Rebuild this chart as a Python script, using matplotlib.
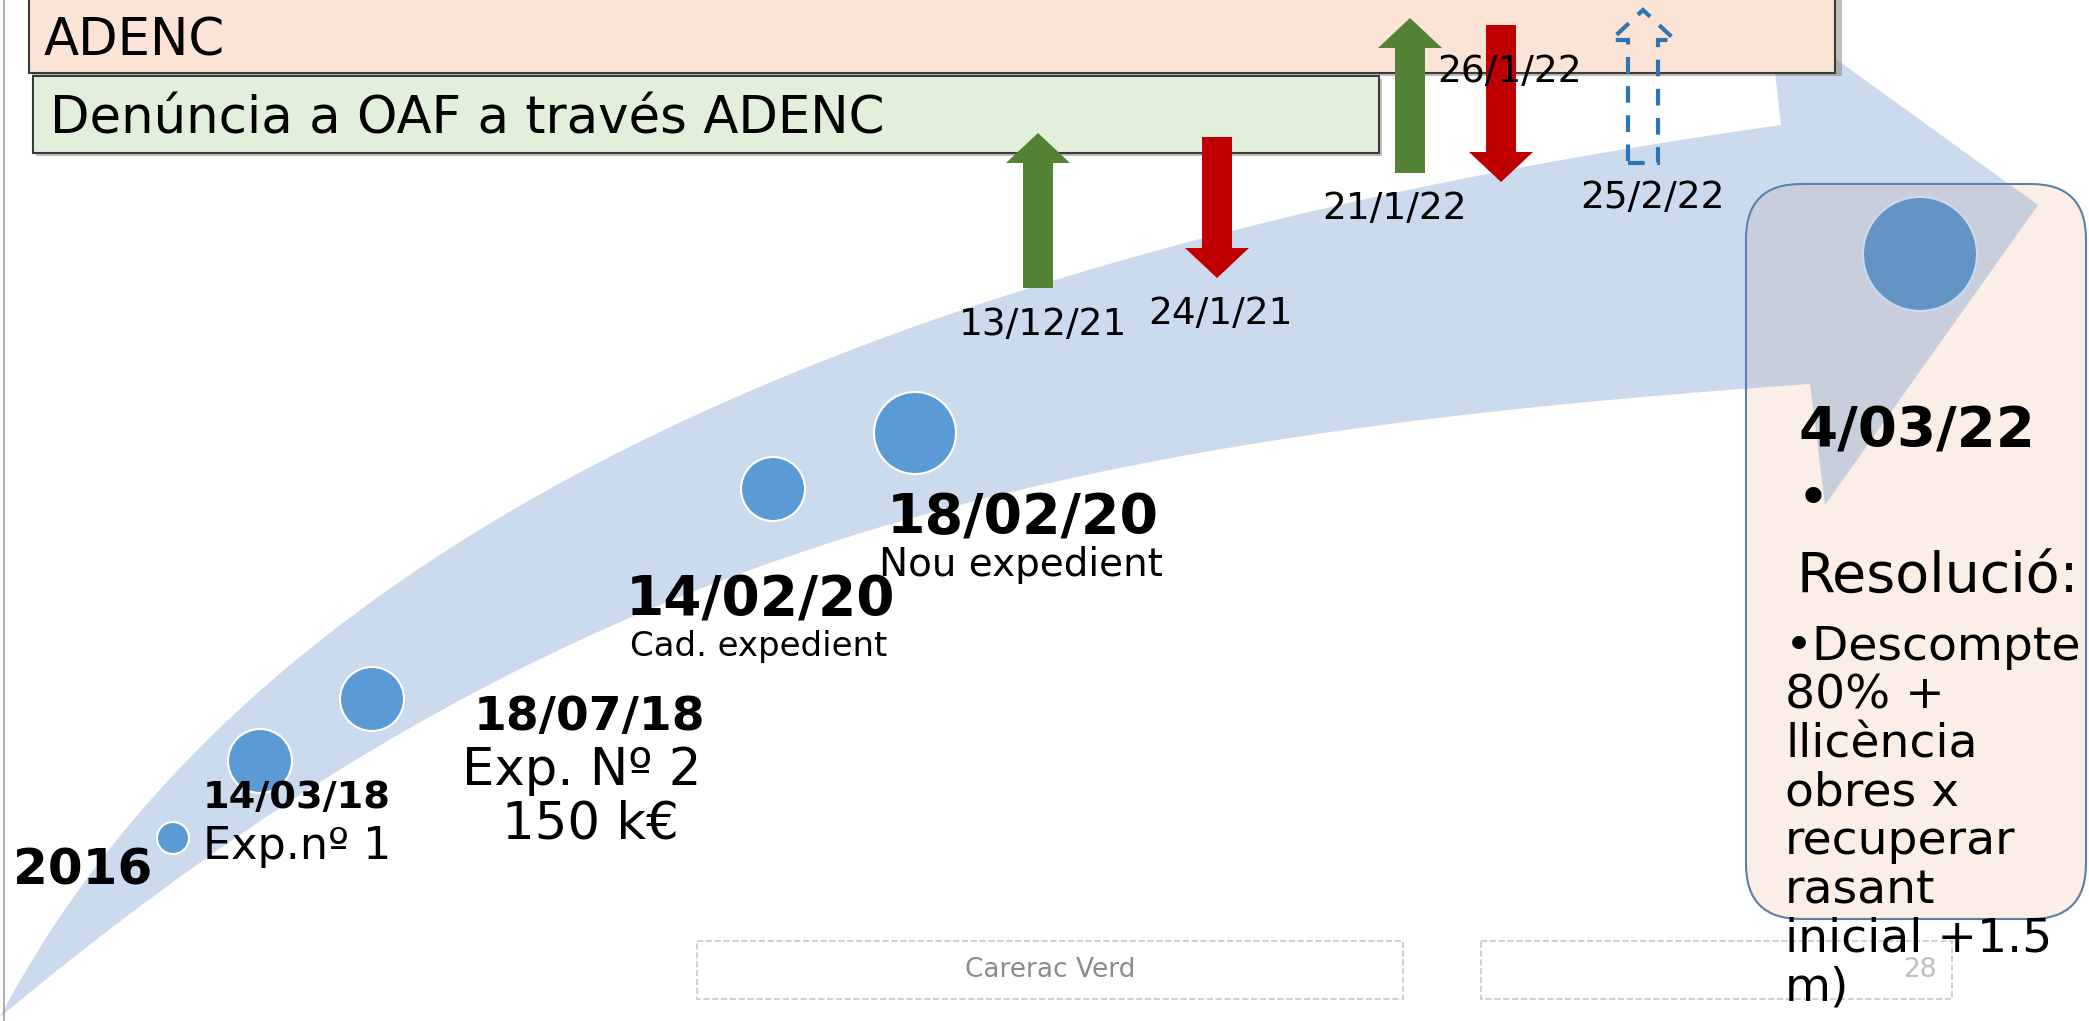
import numpy as np
import matplotlib.pyplot as plt
from math import comb
from matplotlib.patches import Polygon, Rectangle, Circle, FancyBboxPatch

W, H = 2089, 1021

# timeline milestones on the big arrow (x, y, radius in px)
dot_x = [173, 260, 372, 773, 915]
dot_y = [838, 761, 699, 489, 433]
dot_r = [16, 32, 32, 32, 41]

# event arrows (up = green/dashed, down = red)
ev_dates = ['13/12/21', '24/1/21', '21/1/22', '26/1/22', '25/2/22']
ev_x = [1038, 1217, 1410, 1501, 1643]
ev_tail = [288, 137, 173, 25, 163]
ev_tip = [133, 278, 18, 182, 10]
ev_color = ['#548235', '#C00000', '#548235', '#C00000', '#2E75B6']
ev_lab_x = [959, 1148, 1322, 1437, 1580]
ev_lab_y = [335, 324, 219, 82, 208]

resol_lines = ['•Descompte', '80% +', 'llicència', 'obres x',
               'recuperar', 'rasant', 'inicial +1.5', 'm)']


def bezier(pts, n=300):
    pts = np.asarray(pts, float)
    k = len(pts) - 1
    t = np.linspace(0, 1, n)[:, None]
    out = np.zeros((n, 2))
    for i, p in enumerate(pts):
        out += comb(k, i) * t**i * (1 - t)**(k - i) * p
    return out


def block_arrow(x, y0, y1, sw=30, hw=64, hl=30):
    s = np.sign(y1 - y0)
    b = y1 - s * hl
    return [(x - sw/2, y0), (x + sw/2, y0), (x + sw/2, b), (x + hw/2, b),
            (x, y1), (x - hw/2, b), (x - sw/2, b)]


fig = plt.figure(figsize=(W/100, H/100), dpi=100)
ax = fig.add_axes([0, 0, 1, 1])
ax.set_xlim(0, W)
ax.set_ylim(H, 0)
ax.axis('off')

# left slide border
ax.plot([4, 4], [0, H], color='#A0A0A0', lw=1.2, zorder=1)

# result box on the right
ax.add_patch(FancyBboxPatch((1746, 184), 340, 735, boxstyle='round,pad=0,rounding_size=55',
                            fc='#FBEEE6', ec='#5B7FA8', lw=1.5, zorder=1))
ax.add_patch(Circle((1920, 254), 57, fc='#699AC3', ec='white', lw=1.5, zorder=2))

# big curved arrow
upper = bezier([(0, 1017), (364, 325), (1781, 125)])
lower = bezier([(0, 1017), (550, 560), (1000, 440), (1810, 384)])
head = np.array([(1768, 10), (2038, 205), (1825, 505)])
band = np.vstack([upper, head, lower[::-1]])
ax.add_patch(Polygon(band, closed=True, fc='#5887C6', alpha=0.3, ec='none', zorder=3))

# header boxes
ax.add_patch(Rectangle((32, -10), 1810, 86, fc='#7F7F7F', alpha=0.5, ec='none', zorder=4))
ax.add_patch(Rectangle((29, -10), 1806, 83, fc='#FBE3D6', ec='#3A3A3A', lw=1.5, zorder=4))
ax.add_patch(Rectangle((36, 79), 1346, 77, fc='#7F7F7F', alpha=0.5, ec='none', zorder=4))
ax.add_patch(Rectangle((33, 76), 1346, 77, fc='#E2EFDA', ec='#3A3A3A', lw=1.5, zorder=4))
ax.text(44, 56, 'ADENC', fontsize=37, va='baseline', zorder=8)
ax.text(50, 133, 'Denúncia a OAF a través ADENC', fontsize=37, va='baseline', zorder=8)

# event arrows
for i in range(len(ev_dates)):
    pts = block_arrow(ev_x[i], ev_tail[i], ev_tip[i])
    if i == 4:
        ax.add_patch(Polygon(pts, closed=True, fc='none', ec=ev_color[i], lw=3,
                             ls=(0, (4, 3)), zorder=5))
    else:
        ax.add_patch(Polygon(pts, closed=True, fc=ev_color[i], ec='none', zorder=5))
    ax.text(ev_lab_x[i], ev_lab_y[i], ev_dates[i], fontsize=27, va='baseline', zorder=8)

# milestone dots
for x, y, r in zip(dot_x, dot_y, dot_r):
    ax.add_patch(Circle((x, y), r, fc='#5B9BD5', ec='white', lw=1.5, zorder=6))

ax.text(13, 884, '2016', fontsize=36, fontweight='bold', va='baseline', zorder=8)
ax.text(203, 808, '14/03/18', fontsize=27.5, fontweight='bold', va='baseline', zorder=8)
ax.text(203, 859, 'Exp.nº 1', fontsize=32, va='baseline', zorder=8)
ax.text(589, 730, '18/07/18', fontsize=34, fontweight='bold', ha='center', va='baseline', zorder=8)
ax.text(582, 785, 'Exp. Nº 2', fontsize=37, ha='center', va='baseline', zorder=8)
ax.text(590, 838, '150 k€', fontsize=37, ha='center', va='baseline', zorder=8)
ax.text(760, 615, '14/02/20', fontsize=39.5, fontweight='bold', ha='center', va='baseline', zorder=8)
ax.text(759, 656, 'Cad. expedient', fontsize=24.5, ha='center', va='baseline', zorder=8)
ax.text(1023, 533, '18/02/20', fontsize=40, fontweight='bold', ha='center', va='baseline', zorder=8)
ax.text(1021, 576, 'Nou expedient', fontsize=28, ha='center', va='baseline', zorder=8)

# resolution text
ax.text(1798, 446, '4/03/22', fontsize=40.5, fontweight='bold', va='baseline', zorder=8)
ax.text(1797, 516, '•', fontsize=40, va='baseline', zorder=8)
ax.text(1797, 593, 'Resolució:', fontsize=40, va='baseline', zorder=8)
for k, line in enumerate(resol_lines):
    ax.text(1785, 660 + 48.6 * k, line, fontsize=34, va='baseline', zorder=8)

# footer placeholders
ax.add_patch(Rectangle((697, 941), 706, 58, fc='none', ec='#C8C8C8', lw=1.2, ls='--', zorder=2))
ax.add_patch(Rectangle((1481, 941), 471, 58, fc='none', ec='#C8C8C8', lw=1.2, ls='--', zorder=2))
ax.text(1050, 970, 'Carerac Verd', fontsize=19, color='#8C8C8C', ha='center', va='center', zorder=2)
ax.text(1937, 970, '28', fontsize=19, color='#BFBFBF', ha='right', va='center', zorder=2)

fig.savefig('out.png', dpi=100)
